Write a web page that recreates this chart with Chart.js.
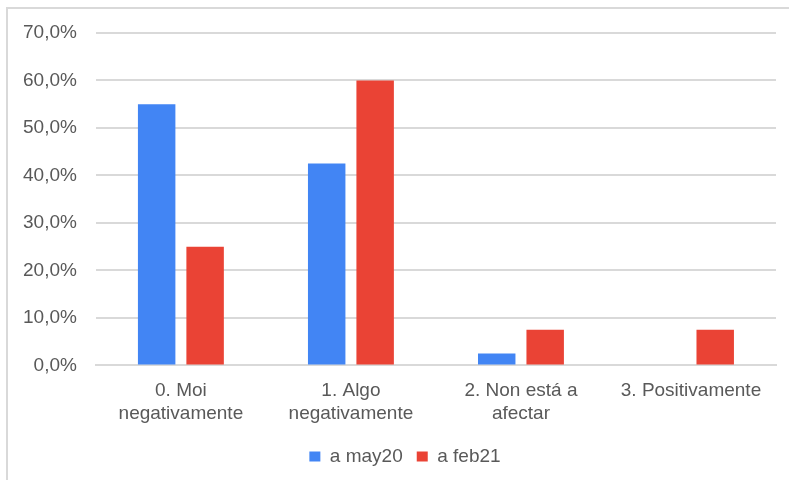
<!DOCTYPE html>
<html>
<head>
<meta charset="utf-8">
<script src="https://cdn.jsdelivr.net/npm/chart.js@4/dist/chart.umd.min.js"></script>
<style>
  html, body { margin: 0; padding: 0; background: #ffffff; overflow: hidden; }
  #frame { position: absolute; left: 6px; top: 7px; width: 820px; height: 520px; border: 2px solid #d9d9d9; box-sizing: border-box; }
  #wrap { position: absolute; left: 0; top: 0; width: 789px; height: 480px; }
</style>
</head>
<body>
<div id="frame"></div>
<div id="wrap"><canvas id="c" width="789" height="480"></canvas></div>
<script>
const categories = [
  ['0. Moi', 'negativamente'],
  ['1. Algo', 'negativamente'],
  ['2. Non está a', 'afectar'],
  ['3. Positivamente']
];
const seriesNames = ['a may20', 'a feb21'];
const may20 = [55.0, 42.5, 2.5, 0.0];
const feb21 = [25.0, 60.0, 7.5, 7.5];
const yTicks = [0, 10, 20, 30, 40, 50, 60, 70];

const FONT = 'Liberation Sans, Arial, sans-serif';

const legendShift = {
  id: 'legendShift',
  afterLayout(chart) {
    if (chart.legend) { chart.legend.left += 15; chart.legend.right += 15; }
  }
};

new Chart(document.getElementById('c'), {
  type: 'bar',
  data: {
    labels: categories,
    datasets: [
      { label: seriesNames[0], data: may20, backgroundColor: '#4285F4', borderWidth: 0,
        categoryPercentage: 0.57, barPercentage: 0.773 },
      { label: seriesNames[1], data: feb21, backgroundColor: '#EA4335', borderWidth: 0,
        categoryPercentage: 0.57, barPercentage: 0.773 }
    ]
  },
  plugins: [legendShift],
  options: {
    responsive: false,
    animation: false,
    devicePixelRatio: 1,
    layout: { padding: { left: 4, right: 13, top: 33, bottom: 4 } },
    plugins: {
      tooltip: { enabled: false },
      legend: {
        position: 'bottom',
        labels: {
          font: { family: FONT, size: 19 },
          color: '#595959',
          boxWidth: 11,
          boxHeight: 10,
          padding: 14
        }
      }
    },
    scales: {
      x: {
        grid: { display: false, drawTicks: false },
        border: { display: true, color: '#d9d9d9', width: 2 },
        ticks: {
          font: { family: FONT, size: 19 },
          color: '#595959',
          padding: 14,
          maxRotation: 0,
          autoSkip: false
        },
        afterFit: (scale) => { scale.height -= 6; }
      },
      y: {
        min: yTicks[0],
        max: yTicks[yTicks.length - 1],
        afterBuildTicks: (axis) => { axis.ticks = yTicks.map(v => ({ value: v })); },
        grid: { color: '#d9d9d9', lineWidth: 2, drawTicks: false },
        border: { display: false },
        ticks: {
          font: { family: FONT, size: 19 },
          color: '#595959',
          padding: 19,
          callback: (v) => v.toFixed(1).replace('.', ',') + '%'
        }
      }
    }
  }
});
</script>
</body>
</html>
